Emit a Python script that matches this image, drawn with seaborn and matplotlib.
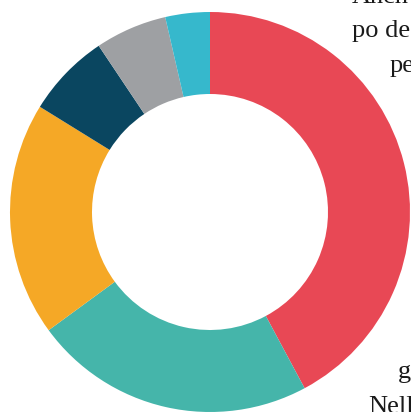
import matplotlib
matplotlib.use("Agg")
import matplotlib.pyplot as plt
import seaborn as sns

categories = ["A", "B", "C", "D", "E", "F"]
shares = [42.2, 22.8, 18.9, 6.8, 5.8, 3.6]
colors = ["#E84855", "#45B5AA", "#F5A826", "#0A4660", "#9EA0A3", "#36B8CC"]

# bits of the surrounding article text that show at the right edge
side_text = ["Anch", "po de", "pe", "g", "Nell'"]

sns.set_style("white")

fig = plt.figure(figsize=(4.11, 4.12), dpi=100)
ax = fig.add_axes([10 / 411, 0, 400 / 411, 400 / 412])

ax.pie(shares, colors=colors, startangle=90, counterclock=False,
       radius=1, wedgeprops=dict(width=0.41, linewidth=0))
ax.set_xlim(-1, 1)
ax.set_ylim(-1, 1)
ax.set_aspect("equal")
ax.axis("off")

# article text, positioned in pixels (baseline)
pos = [(352, 3), (352, 37), (390, 72), (398, 378), (368, 413)]
for s, (x, y) in zip(side_text, pos):
    fig.text(x / 411, 1 - y / 412, s, family="Liberation Serif",
             fontsize=19, color="#1a1a1a", ha="left", va="baseline",
             zorder=-1)

fig.savefig("out.png", dpi=100)
